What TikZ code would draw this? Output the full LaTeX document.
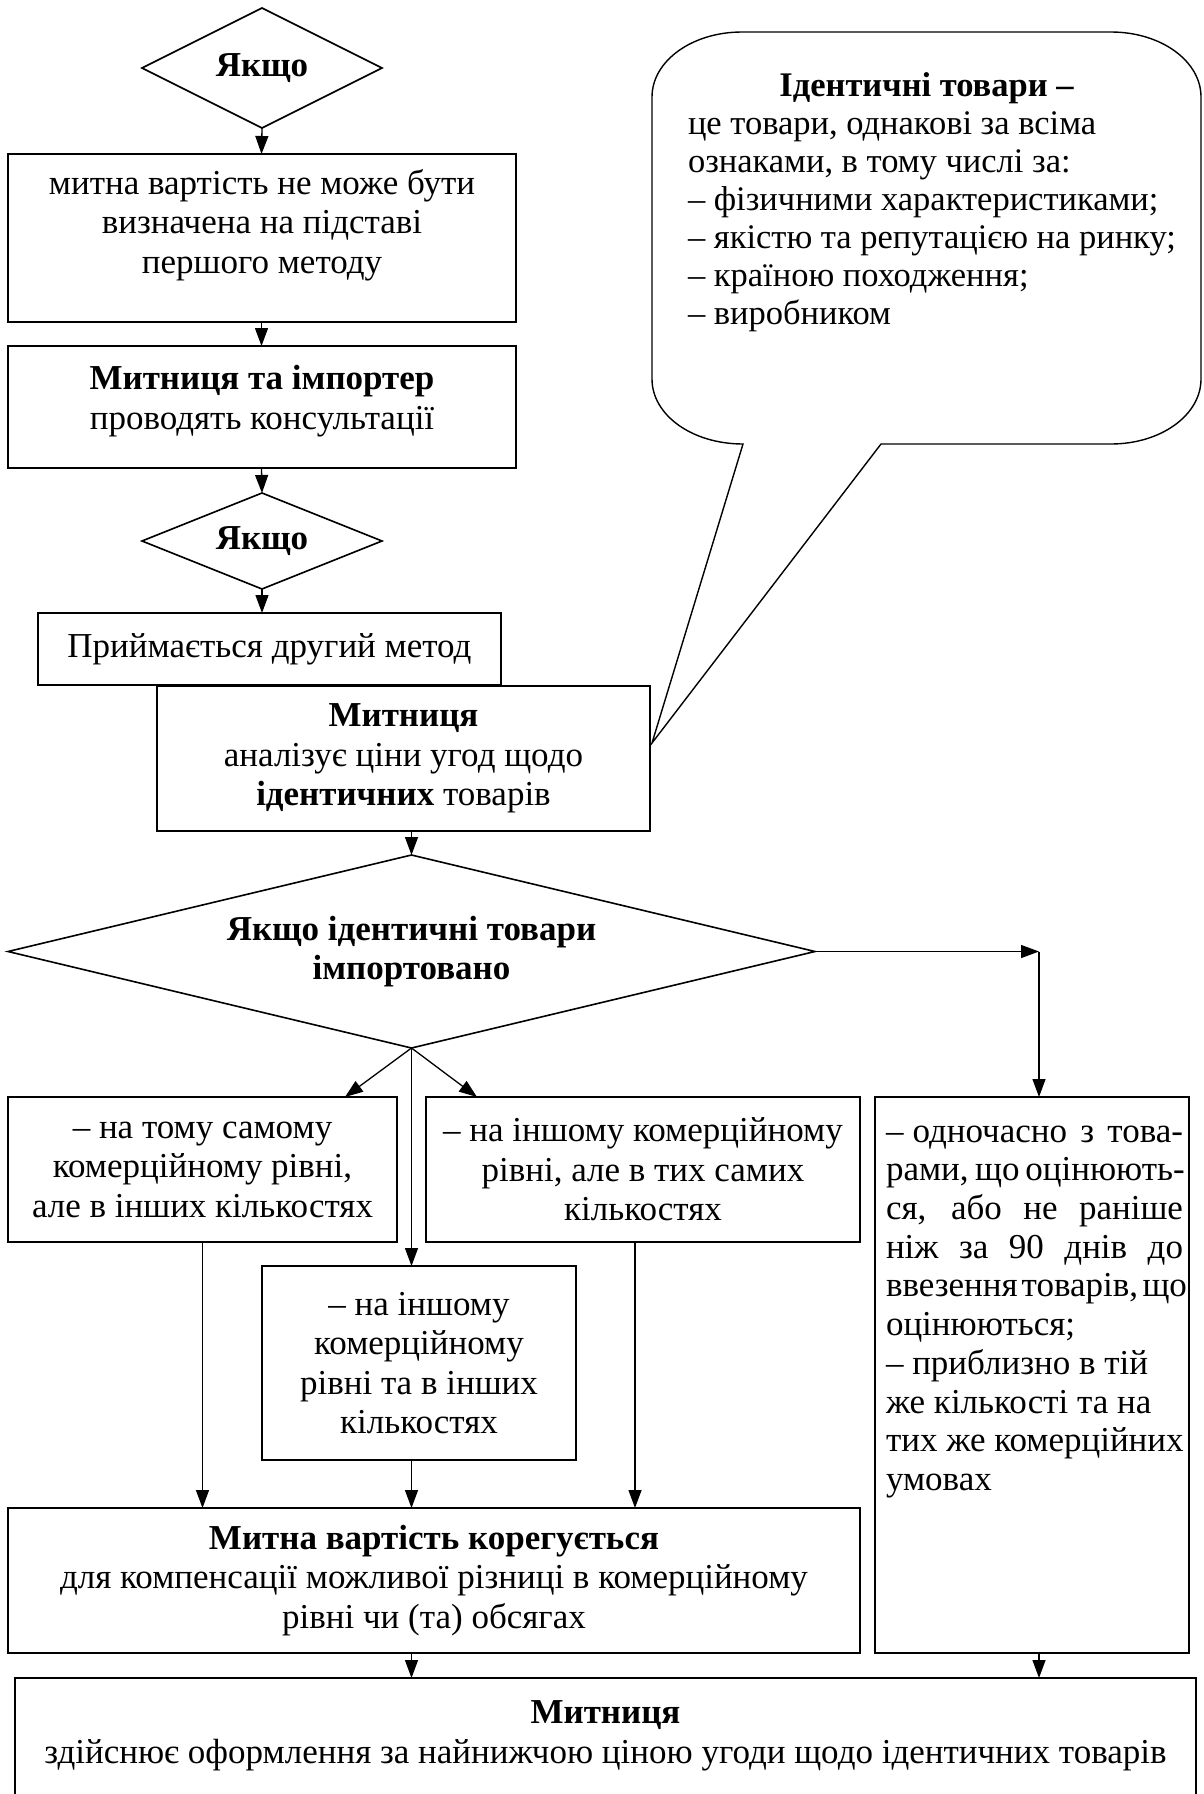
\documentclass[tikz,border=0pt]{standalone}
\usepackage{fontspec}
\setmainfont{Liberation Serif}
\usetikzlibrary{arrows.meta,shapes.geometric,calc}
\newcommand\mainfs{\fontsize{35}{39.5}\selectfont}
\newcommand\frfs{\fontsize{35}{38.7}\selectfont}
\newcommand\cbfs{\fontsize{34.5}{38}\selectfont}

\begin{document}
\begin{tikzpicture}[x=1pt,y=-1pt,
  box/.style={draw, line width=2pt, rectangle, inner sep=0pt, outer sep=0pt,
              font=\mainfs, align=center},
  dia/.style={draw, diamond, line width=1.6pt, inner sep=0pt, outer sep=0pt,
              font=\mainfs\bfseries, align=center},
  txt/.style={inner sep=0pt, outer sep=0pt, font=\mainfs, align=center},
  arr/.style={line width=1.3pt, -{Triangle[length=18pt,width=13pt]}},
  callout/.style={line width=1.4pt, line join=miter}]

\fill[white] (0,0) rectangle (1203,1794);
\useasboundingbox (0,0) rectangle (1203,1794);

% ---- main column ----
\node[dia, minimum width=240pt, minimum height=120pt, aspect=2] (d1) at (262,68) {Якщо};

\node[box, minimum width=508pt, minimum height=168pt] (b1) at (261.5,238) {};
\node[txt] (b1t) at (262,225) {митна вартість не може бути\\визначена на підставі\\першого методу};

\node[box, minimum width=508pt, minimum height=122pt] (b2) at (261.5,407) {};
\node[txt] (b2t) at (262,401) {\textbf{Митниця та імпортер}\\проводять консультації};

\node[dia, minimum width=240pt, minimum height=96pt, aspect=2.5] (d2) at (262,541) {Якщо};

\node[box, minimum width=463pt, minimum height=72pt] (b3) at (269.5,649) {Приймається другий метод};

\node[box, fill=white, minimum width=493pt, minimum height=145pt] (b4) at (403.5,758.5)
  {\textbf{Митниця}\\аналізує ціни угод щодо\\\textbf{ідентичних} товарів};

\node[dia, minimum width=807pt, minimum height=193pt, aspect=4.18] (d3) at (411.5,951.5)
  {Якщо ідентичні товари\\імпортовано};

% ---- branches ----
\node[box, minimum width=389pt, minimum height=145pt] (bl) at (202.5,1169.5)
  {– на тому самому\\комерційному рівні,\\але в інших кількостях};
\node[box, minimum width=434pt, minimum height=145pt] (br) at (643,1169.5)
  {– на іншому комерційному\\рівні, але в тих самих\\кількостях};
\node[box, minimum width=314pt, minimum height=194pt] (bm) at (419,1363)
  {– на іншому\\комерційному\\рівні та в інших\\кількостях};

\node[box, minimum width=852pt, minimum height=145pt] (adj) at (434,1580.5)
  {\textbf{Митна вартість корегується}\\для компенсації можливої різниці в комерційному\\рівні чи (та) обсягах};

\node[box, minimum width=314pt, minimum height=556pt] (fr) at (1032,1375) {};
\node[txt, font=\frfs, align=left, anchor=north west] (frt) at (886,1115)
  {\strut\makebox[297pt][s]{–\hspace{9pt}одночасно з това-}\\
   \makebox[297pt][s]{рами, що оцінюють-}\\
   \makebox[297pt][s]{ся, або не раніше}\\
   \makebox[297pt][s]{ніж за 90 днів до}\\
   \makebox[295pt][s]{\spaceskip=6pt plus 4pt minus 2pt ввезення товарів, що}\\
   оцінюються;\\
   – приблизно в тій\\
   же кількості та на\\
   тих же комерційних\\
   умовах};

% final box, open at the lower page edge
\node[inner sep=0pt, outer sep=0pt, minimum width=1181pt, minimum height=116pt] (fin) at (605.5,1736) {};
\draw[line width=2pt] (fin.south west) -- (fin.north west) -- (fin.north east) -- (fin.south east);
\node[txt] (fint) at (605.5,1736)
  {\textbf{Митниця}\\здійснює оформлення за найнижчою ціною угоди щодо ідентичних товарів};

% ---- callout ----
\coordinate (apex) at ($(b4.north east)+(2,57)$);
\draw[callout] (743,444) -- (apex) -- (881,444) -- (1111,444)
  .. controls (1161,444) and (1201,415) .. (1201,379)
  -- (1201,97)
  .. controls (1201,61) and (1161,32) .. (1111,32)
  -- (742,32)
  .. controls (692,32) and (652,61) .. (652,97)
  -- (652,379)
  .. controls (652,415) and (692,444) .. (743,444) -- cycle;
\node[txt, font=\cbfs\bfseries] (ctitle) at (926.5,88) {Ідентичні товари –};
\node[txt, font=\cbfs, align=left, anchor=west] (cbody) at (688,222)
  {це товари, однакові за всіма\\ознаками, в тому числі за:\\– фізичними характеристиками;\\– якістю та репутацією на ринку;\\– країною походження;\\– виробником};

% ---- connectors ----
\coordinate (rc) at (1039,951.5);
\coordinate (brx) at ($(br.south)+(-8,0)$);
\draw[arr] (d1.south) -- (b1.north);
\draw[arr] (b1.south) -- (b2.north);
\draw[arr] (b2.south) -- (d2.north);
\draw[arr] (d2.south) -- (d2.south |- b3.north);
\draw[arr] (d3.north |- b4.south) -- (d3.north);
\draw[arr] (d3.east) -- (rc);
\draw[arr] (rc) -- (rc |- fr.north);
\draw[arr] (d3.south) -- ($(bl.north west)+(337,0)$);
\draw[arr] (d3.south) -- ($(br.north west)+(51,0)$);
\draw[arr] (d3.south) -- (d3.south |- bm.north);
\draw[arr] (bl.south) -- (bl.south |- adj.north);
\draw[arr] (d3.south |- bm.south) -- (d3.south |- adj.north);
\draw[arr] (brx) -- (brx |- adj.north);
\draw[arr] (d3.south |- adj.south) -- (d3.south |- fin.north);
\draw[arr] (rc |- fr.south) -- (rc |- fin.north);
\end{tikzpicture}
\end{document}
